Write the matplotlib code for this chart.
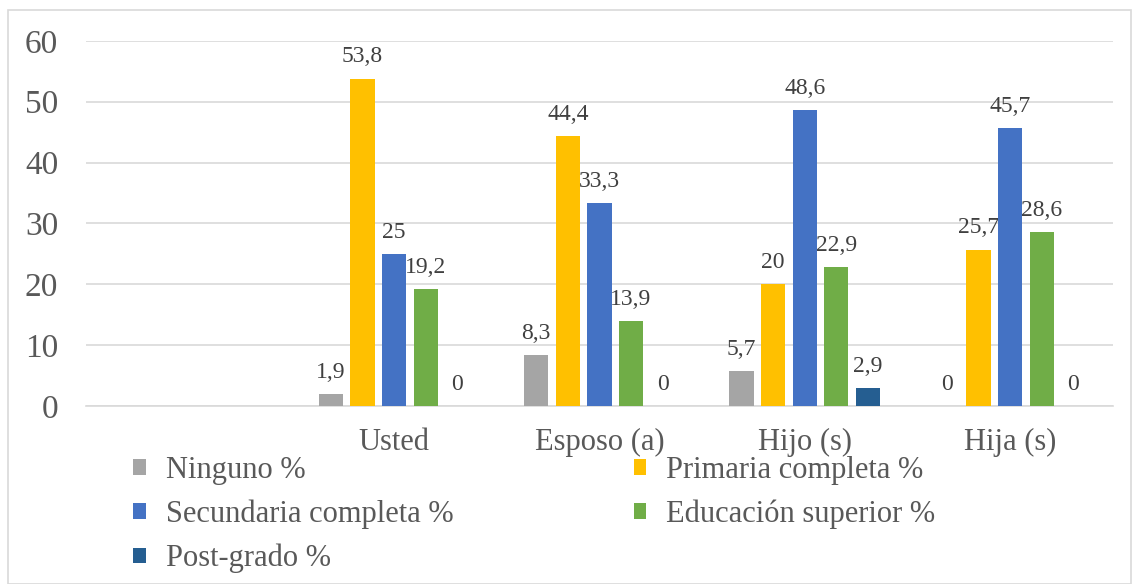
import matplotlib.pyplot as plt
import numpy as np
from matplotlib.patches import Rectangle

# data
categories = ['', 'Usted', 'Esposo (a)', 'Hijo (s)', 'Hija (s)']
series = ['Ninguno %', 'Primaria completa %', 'Secundaria completa %',
          'Educación superior %', 'Post-grado %']
ninguno = [None, 1.9, 8.3, 5.7, 0]
primaria = [None, 53.8, 44.4, 20, 25.7]
secundaria = [None, 25, 33.3, 48.6, 45.7]
superior = [None, 19.2, 13.9, 22.9, 28.6]
postgrado = [None, 0, 0, 2.9, 0]
values = [ninguno, primaria, secundaria, superior, postgrado]
colors = ['#a5a5a5', '#ffc000', '#4472c4', '#70ad47', '#255e91']

plt.rcParams['font.family'] = ['Liberation Serif', 'DejaVu Serif']
txt = '#595959'

fig = plt.figure(figsize=(11.32, 5.84), dpi=100)
ax = fig.add_axes([0.076, 0.3048, 0.907, 0.6252])

x = np.arange(len(categories))
step = 0.154
width = 0.118
handles = []
for i, (name, vals, c) in enumerate(zip(series, values, colors)):
    off = (i - 2) * step
    for j, v in enumerate(vals):
        if v is None:
            continue
        ax.bar(x[j] + off, v, width, color=c, zorder=3)
        lab = ('%g' % v).replace('.', ',')
        ax.annotate(lab, (x[j] + off, v), xytext=(0, 8), textcoords='offset points',
                    ha='center', va='bottom', fontsize=17, color='#404040')
    handles.append(ax.bar([0], [0], width, color=c, label=name))

ax.set_xlim(-0.5, len(categories) - 0.5)
ax.set_ylim(0, 60)
ax.set_yticks(range(0, 61, 10))
ax.set_xticks(x)
ax.set_xticklabels(categories)
ax.tick_params(axis='y', length=0, labelsize=24, colors=txt, pad=20)
ax.tick_params(axis='x', length=0, labelsize=22, colors=txt, pad=16)
ax.grid(axis='y', color='#d9d9d9', linewidth=1.2, zorder=0)
for s in ['top', 'right', 'left']:
    ax.spines[s].set_visible(False)
ax.spines['bottom'].set_color('#d9d9d9')
ax.spines['bottom'].set_linewidth(1.2)

# legend rows: (Ninguno, Primaria), (Secundaria, Superior), (Post-grado)
order = [0, 2, 4, 1, 3]
leg = fig.legend([handles[k] for k in order], [series[k] for k in order],
                 loc='upper left', bbox_to_anchor=(0.1175, 0.219), ncol=2,
                 frameon=False, fontsize=22, handlelength=0.42, handleheight=0.42,
                 handletextpad=0.65, columnspacing=5.9, labelspacing=0.48,
                 borderaxespad=0, borderpad=0)
for t in leg.get_texts():
    t.set_color(txt)

fig.patches.append(Rectangle((8 / 1132, 0), 1 - 8 / 1132 - 0.0005, 1 - 10 / 584,
                             transform=fig.transFigure, fill=False,
                             edgecolor='#d9d9d9', linewidth=1.2))

fig.savefig('out.png', dpi=100)
